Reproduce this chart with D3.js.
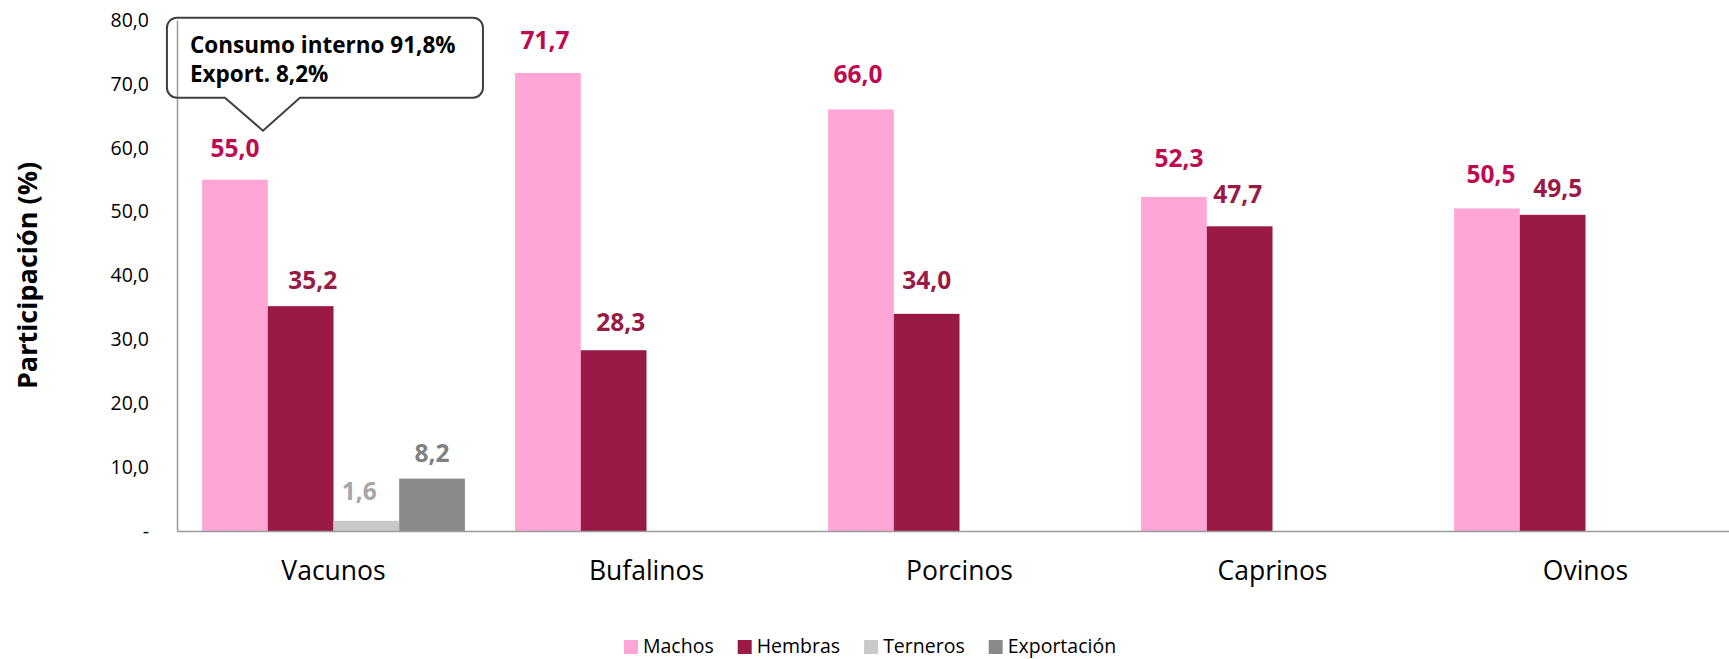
<!DOCTYPE html>
<html>
<head>
<meta charset="utf-8">
<script src="https://cdn.jsdelivr.net/npm/d3@7/dist/d3.min.js"></script>
<style>
  html, body { margin: 0; padding: 0; background: #fff; }
  svg { display: block; font-family: "Open Sans", "Noto Sans", sans-serif; }
</style>
</head>
<body>
<svg id="chart" width="1729" height="659"></svg>
<script>
// ---------- data ----------
const categories = ["Vacunos", "Bufalinos", "Porcinos", "Caprinos", "Ovinos"];
const seriesNames = ["Machos", "Hembras", "Terneros", "Exportación"];
const machos = [55.0, 71.7, 66.0, 52.3, 50.5];
const hembras = [35.2, 28.3, 34.0, 47.7, 49.5];
const terneros = [1.6, null, null, null, null];
const exportacion = [8.2, null, null, null, null];
const yTickValues = [0, 10, 20, 30, 40, 50, 60, 70, 80];
const yTickLabels = ["-", "10,0", "20,0", "30,0", "40,0", "50,0", "60,0", "70,0", "80,0"];
const calloutLines = ["Consumo interno 91,8%", "Export. 8,2%"];
const yTitle = "Participación (%)";

// ---------- styles ----------
const barColors = { "Machos": "#FFA6D7", "Hembras": "#981A45", "Terneros": "#C9C9C9", "Exportación": "#8A8A8A" };
const labelColors = { "Machos": "#BE0A50", "Hembras": "#981A45", "Terneros": "#A6A6A6", "Exportación": "#808080" };
// manual label nudges (Excel-style hand placement): gap above bar top and horizontal shift
const labelGap = { "Machos": [23, 24, 26, 30, 25], "Hembras": [17, 19, 25, 23, 18], "Terneros": [21, 0, 0, 0, 0], "Exportación": [17, 0, 0, 0, 0] };
const labelDx = { "Machos": [0, -3, -3, 5, 4], "Hembras": [12, 7, 0, -2, 5], "Terneros": [-7, 0, 0, 0, 0], "Exportación": [0, 0, 0, 0, 0] };

const seriesValues = { "Machos": machos, "Hembras": hembras, "Terneros": terneros, "Exportación": exportacion };

const svg = d3.select("#chart");
const plotLeft = 177, bandW = 313;

const x0 = d3.scaleBand().domain(categories).range([plotLeft, plotLeft + bandW * categories.length]).padding(0);
const x1 = d3.scaleBand().domain(seriesNames).range([0, x0.bandwidth()]).paddingInner(0).paddingOuter(0.382);
const y = d3.scaleLinear().domain([0, 80]).range([531, 20]);

// bars
const records = [];
categories.forEach((c, i) => {
  seriesNames.forEach(s => {
    const v = seriesValues[s][i];
    if (v != null) records.push({ cat: c, idx: i, series: s, value: v });
  });
});

svg.append("g").selectAll("rect").data(records).join("rect")
  .attr("x", d => x0(d.cat) + x1(d.series))
  .attr("y", d => y(d.value))
  .attr("width", x1.bandwidth())
  .attr("height", d => y(0) - y(d.value))
  .attr("fill", d => barColors[d.series]);

// y axis
const yAxis = d3.axisLeft(y).tickValues(yTickValues).tickSize(0).tickPadding(28)
  .tickFormat((d, i) => yTickLabels[i]);
const gy = svg.append("g").attr("transform", `translate(${plotLeft},0)`).call(yAxis);
gy.select(".domain").attr("stroke", "#9A9A9A").attr("stroke-width", 1.5);
gy.selectAll("text").attr("font-size", "19.5px").attr("fill", "#000")
  .attr("font-family", "'Open Sans', sans-serif");

// x axis
const xAxis = d3.axisBottom(x0).tickSize(0).tickPadding(30);
const gx = svg.append("g").attr("transform", `translate(0,${y(0)})`).call(xAxis);
gx.select(".domain").attr("stroke", "#9A9A9A").attr("stroke-width", 1.5);
gx.selectAll("text").attr("font-size", "26.5px").attr("fill", "#000")
  .attr("font-family", "'Open Sans', sans-serif");

// value labels
const fmt = v => v.toFixed(1).replace(".", ",");
svg.append("g").selectAll("text").data(records).join("text")
  .attr("x", d => x0(d.cat) + x1(d.series) + x1.bandwidth() / 2 + labelDx[d.series][d.idx])
  .attr("y", d => y(d.value) - labelGap[d.series][d.idx])
  .attr("text-anchor", "middle")
  .attr("font-size", "24.5px")
  .attr("font-weight", "bold")
  .attr("fill", d => labelColors[d.series])
  .text(d => fmt(d.value));

// y title
svg.append("text")
  .attr("transform", `translate(37,${(y(0) + y(80)) / 2}) rotate(-90)`)
  .attr("text-anchor", "middle")
  .attr("font-size", "27px")
  .attr("font-weight", "bold")
  .attr("fill", "#000")
  .text(yTitle);

// callout anchored to Vacunos / Machos label
const tipX = x0("Vacunos") + x1("Machos") + x1.bandwidth() / 2 + 28;
const tipY = y(machos[0]) - 49;
const bx0 = tipX - 96, bx1 = tipX + 220, by0 = tipY - 113, by1 = tipY - 33, r = 10;
const p = d3.path();
p.moveTo(bx0 + r, by0);
p.lineTo(bx1 - r, by0);
p.arcTo(bx1, by0, bx1, by0 + r, r);
p.lineTo(bx1, by1 - r);
p.arcTo(bx1, by1, bx1 - r, by1, r);
p.lineTo(tipX + 37, by1);
p.lineTo(tipX, tipY);
p.lineTo(tipX - 38, by1);
p.lineTo(bx0 + r, by1);
p.arcTo(bx0, by1, bx0, by1 - r, r);
p.lineTo(bx0, by0 + r);
p.arcTo(bx0, by0, bx0 + r, by0, r);
p.closePath();
svg.append("path").attr("d", p.toString()).attr("fill", "none")
  .attr("stroke", "#404040").attr("stroke-width", 2);
svg.append("g").selectAll("text").data(calloutLines).join("text")
  .attr("x", bx0 + 23)
  .attr("y", (d, i) => by0 + 35 + i * 29)
  .attr("font-size", "22.5px")
  .attr("font-weight", "bold")
  .attr("fill", "#000")
  .text(d => d);

// legend
const legend = svg.append("g");
let lx = 624;
seriesNames.forEach(s => {
  legend.append("rect").attr("x", lx).attr("y", 640).attr("width", 14).attr("height", 14).attr("fill", barColors[s]);
  const t = legend.append("text").attr("x", lx + 19).attr("y", 653)
    .attr("font-size", "19.5px").attr("fill", "#000").text(s);
  lx = lx + 19 + t.node().getComputedTextLength() + 24;
});
</script>
</body>
</html>
